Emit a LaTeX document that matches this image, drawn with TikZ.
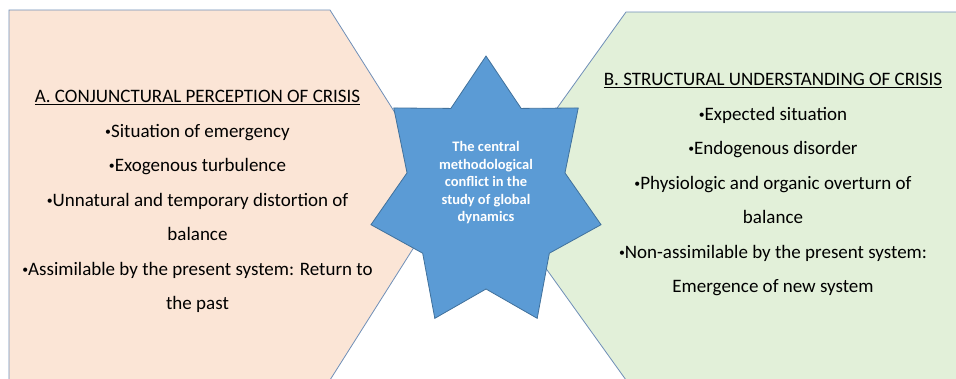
\documentclass[tikz,border=0pt]{standalone}
\usepackage{fontspec}
\setmainfont{Carlito}
\definecolor{peach}{HTML}{FBE5D6}
\definecolor{mint}{HTML}{E2F0D9}
\definecolor{starblue}{HTML}{5B9BD5}
\definecolor{edgeblue}{HTML}{41719C}
\definecolor{thinedge}{HTML}{6F8FB8}
% small list bullet
\newcommand\smbullet{\raisebox{1.6pt}{\scalebox{0.62}{•}}}
\tikzset{
  panel/.style={draw=thinedge, line width=0.8pt, line join=miter},
  starshape/.style={fill=starblue, draw=edgeblue, line width=0.8pt, line join=miter},
  bodytext/.style={align=center, inner sep=0pt, text=black,
    font=\fontsize{19}{34.5}\selectfont},
  startext/.style={align=center, inner sep=0pt, text=white,
    font=\bfseries\fontsize{14.5}{17.5}\selectfont}
}
\begin{document}
\begin{tikzpicture}[x=1pt,y=-1pt]
\useasboundingbox (0,0) rectangle (956,378);
\clip (0,0) rectangle (956,378);
\fill[white] (0,0) rectangle (956,378);

% left pentagon
\draw[panel, fill=peach] (9,10) -- (330,10) -- (447,195) -- (330,380) -- (9,380) -- cycle;
% right pentagon
\draw[panel, fill=mint] (626,12) -- (970,12) -- (970,380) -- (626,380) -- (494,196) -- cycle;

% seven-pointed star
\begin{scope}[shift={(486,194)}]
\draw[starshape]
  (90:118 and -138) -- (64.286:81 and -95) --
  (38.571:118 and -138) -- (12.857:81 and -95) --
  (-12.857:118 and -138) -- (-38.571:81 and -95) --
  (-64.286:118 and -138) -- (-90:81 and -95) --
  (-115.714:118 and -138) -- (-141.429:81 and -95) --
  (-167.143:118 and -138) -- (167.143:81 and -95) --
  (141.429:118 and -138) -- (115.714:81 and -95) -- cycle;
\end{scope}

\node[startext] (core) at (486,183)
  {The central\\methodological\\conflict in the\\study of global\\dynamics};

\node[bodytext, anchor=north] (conj) at (197.5,90)
  {\underline{A. CONJUNCTURAL PERCEPTION OF CRISIS}\\
   \smbullet Situation of emergency\\
   \smbullet Exogenous turbulence\\
   \smbullet Unnatural and temporary distortion of\\
   balance\\
   \smbullet Assimilable by the present system: Return to\\
   the past};

\node[bodytext, anchor=north] (struct) at (773,73)
  {\underline{B. STRUCTURAL UNDERSTANDING OF CRISIS}\\
   \smbullet Expected situation\\
   \smbullet Endogenous disorder\\
   \smbullet Physiologic and organic overturn of\\
   balance\\
   \smbullet Non-assimilable by the present system:\\
   Emergence of new system};
\end{tikzpicture}
\end{document}
